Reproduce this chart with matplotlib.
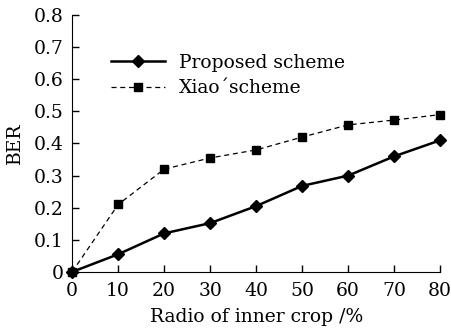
import matplotlib
matplotlib.use("Agg")
import matplotlib.pyplot as plt

x = [0, 10, 20, 30, 40, 50, 60, 70, 80]
proposed = [0, 0.055, 0.12, 0.152, 0.205, 0.268, 0.300, 0.360, 0.410]
xiao = [0, 0.210, 0.320, 0.355, 0.380, 0.420, 0.458, 0.473, 0.490]
xticks = [0, 10, 20, 30, 40, 50, 60, 70, 80]
yticks = [0, 0.1, 0.2, 0.3, 0.4, 0.5, 0.6, 0.7, 0.8]
ylabels = ["0", "0.1", "0.2", "0.3", "0.4", "0.5", "0.6", "0.7", "0.8"]

plt.rcParams['font.family'] = ['DejaVu Serif']
fig = plt.figure(figsize=(4.51, 3.28), dpi=100)
ax = fig.add_axes([0.16, 0.171, 0.816, 0.783])
ax.plot(x, proposed, '-', color='black', lw=1.8, marker='D', ms=6.5, label='Proposed scheme', clip_on=False, zorder=3)
ax.plot(x, xiao, '--', color='black', lw=0.9, marker='s', ms=6, dashes=(4, 3), label='Xiao\u00b4scheme', clip_on=False, zorder=3)
ax.set_xlim(0, 80)
ax.set_ylim(0, 0.8)
ax.set_xticks(xticks)
ax.set_yticks(yticks)
ax.set_yticklabels(ylabels)
ax.spines['top'].set_visible(False)
ax.spines['right'].set_visible(False)
ax.tick_params(direction='in', length=5, labelsize=13.5, width=1)
ax.tick_params(axis='x', pad=7)
ax.tick_params(axis='y', pad=6)
ax.set_xlabel('Radio of inner crop /%', fontsize=13.5, labelpad=6)
ax.set_ylabel('BER', fontsize=13.5, labelpad=7)
ax.legend(loc='upper left', bbox_to_anchor=(0.06, 0.915), frameon=False, fontsize=13.5,
          handlelength=2.9, handletextpad=0.7, labelspacing=0.4)
fig.savefig('out.png', dpi=100)
